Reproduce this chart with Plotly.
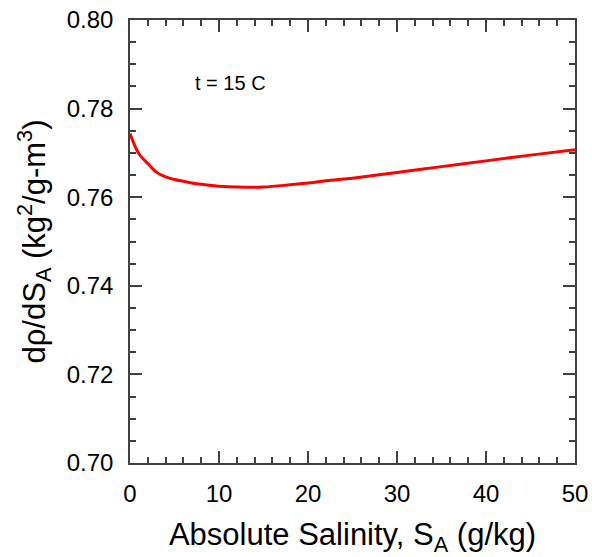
import plotly.graph_objects as go

salinity = [0, 0.5, 1, 1.5, 2, 3, 4, 5, 6, 8, 10, 12, 15, 18, 20, 22, 24, 25, 30, 35, 40, 45, 50]
drho_dS = [0.7744, 0.7718, 0.7698, 0.7686, 0.7676, 0.7656, 0.7646, 0.7640, 0.7636, 0.7629, 0.7625,
           0.7623, 0.7623, 0.7628, 0.7632, 0.7637, 0.7641, 0.7643, 0.7656, 0.7669, 0.7682, 0.7695, 0.7707]

FONT = "Liberation Sans, Arial, sans-serif"

fig = go.Figure()
fig.add_trace(go.Scatter(x=salinity, y=drho_dS, mode="lines",
                         line=dict(color="#ff0000", width=3, shape="spline"),
                         showlegend=False))

fig.add_annotation(x=7.1, y=0.7857, text="t = 15 C", showarrow=False,
                   xanchor="left", yanchor="middle",
                   font=dict(family=FONT, size=20, color="black"))

axis_common = dict(showgrid=False, zeroline=False, showline=True, linecolor="#404040",
                   linewidth=1.5, mirror="allticks", ticks="inside", ticklen=12,
                   tickwidth=1.5, tickcolor="#404040", automargin=False,
                   ticklabeloverflow="allow",
                   tickfont=dict(family=FONT, size=24, color="black"))

fig.update_xaxes(range=[0, 50], dtick=10, tick0=0,
                 minor=dict(dtick=2, ticks="inside", ticklen=6, tickcolor="#404040", tickwidth=1.5),
                 title=dict(text="Absolute Salinity, S<sub>A</sub> (g/kg)",
                            font=dict(family=FONT, size=31, color="black"), standoff=19),
                 ticklabelstandoff=8,
                 **axis_common)
fig.update_yaxes(range=[0.70, 0.80], dtick=0.02, tick0=0.70, tickformat=".2f",
                 minor=dict(dtick=0.005, ticks="inside", ticklen=6, tickcolor="#404040", tickwidth=1.5),
                 title=dict(text="dρ/dS<sub>A</sub> (kg<sup>2</sup>/g-m<sup>3</sup>)",
                            font=dict(family=FONT, size=31, color="black"), standoff=12),
                 ticklabelstandoff=10,
                 **axis_common)

fig.update_layout(width=592, height=557, margin=dict(l=130, r=17, t=20, b=94),
                  plot_bgcolor="white", paper_bgcolor="white")

fig.write_html("out.html", config={"displayModeBar": False},
               post_script="document.body.style.margin='0';document.body.style.overflow='hidden';")
